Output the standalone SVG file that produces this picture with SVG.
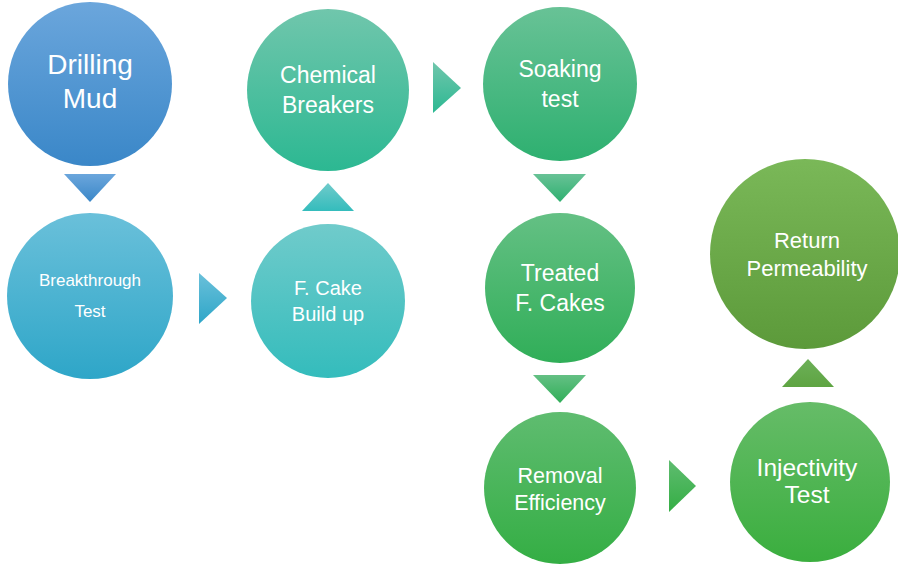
<svg xmlns="http://www.w3.org/2000/svg" width="898" height="567" viewBox="0 0 898 567">
<defs>
<linearGradient id="gBlue" x1="0" y1="0" x2="0" y2="1"><stop offset="0" stop-color="#6ba6dc"/><stop offset="1" stop-color="#3a87c8"/></linearGradient>
<linearGradient id="gCyan" x1="0" y1="0" x2="0" y2="1"><stop offset="0" stop-color="#6ac0da"/><stop offset="1" stop-color="#2ea6c8"/></linearGradient>
<linearGradient id="gTeal" x1="0" y1="0" x2="0" y2="1"><stop offset="0" stop-color="#70cbcb"/><stop offset="1" stop-color="#34bcbc"/></linearGradient>
<linearGradient id="gSea" x1="0" y1="0" x2="0" y2="1"><stop offset="0" stop-color="#70c6ac"/><stop offset="1" stop-color="#2cb892"/></linearGradient>
<linearGradient id="gMint" x1="0" y1="0" x2="0" y2="1"><stop offset="0" stop-color="#68c296"/><stop offset="1" stop-color="#2eb070"/></linearGradient>
<linearGradient id="gGreen1" x1="0" y1="0" x2="0" y2="1"><stop offset="0" stop-color="#64c084"/><stop offset="1" stop-color="#30ae58"/></linearGradient>
<linearGradient id="gGreen2" x1="0" y1="0" x2="0" y2="1"><stop offset="0" stop-color="#5fbc70"/><stop offset="1" stop-color="#34ae44"/></linearGradient>
<linearGradient id="gGreen3" x1="0" y1="0" x2="0" y2="1"><stop offset="0" stop-color="#66bc68"/><stop offset="1" stop-color="#3aae3e"/></linearGradient>
<linearGradient id="gOlive" x1="0" y1="0" x2="0" y2="1"><stop offset="0" stop-color="#7ab858"/><stop offset="1" stop-color="#5c9a3a"/></linearGradient>
<linearGradient id="gOliveT" x1="0" y1="0" x2="0" y2="1"><stop offset="0" stop-color="#6cb058"/><stop offset="1" stop-color="#5ea442"/></linearGradient>
</defs>
<style>
text{font-family:"Liberation Sans",Arial,sans-serif;fill:#ffffff;text-anchor:middle}
</style>
<g id="connectors">
<polygon points="64,174 116,174 90,202" fill="url(#gBlue)"/>
<polygon points="199,273 227,298 199,324" fill="url(#gCyan)"/>
<polygon points="302,211 354,211 328,183" fill="url(#gTeal)"/>
<polygon points="433,62 461,88 433,113" fill="url(#gSea)"/>
<polygon points="533,174 586,174 560,202" fill="url(#gMint)"/>
<polygon points="533,375 586,375 560,403" fill="url(#gGreen1)"/>
<polygon points="669,460 696,486 669,512" fill="url(#gGreen2)"/>
<polygon points="782,387 834,387 808,359" fill="url(#gOliveT)"/>
</g>
<g id="drilling-mud">
<circle cx="90" cy="84" r="82" fill="url(#gBlue)"/>
<text x="90" y="74" font-size="28">Drilling</text>
<text x="90" y="108" font-size="28">Mud</text>
</g>
<g id="breakthrough-test">
<circle cx="90" cy="296" r="83" fill="url(#gCyan)"/>
<text x="90" y="286" font-size="17">Breakthrough</text>
<text x="90" y="317" font-size="17">Test</text>
</g>
<g id="f-cake-build-up">
<circle cx="328" cy="301" r="77" fill="url(#gTeal)"/>
<text x="328" y="295" font-size="20">F. Cake</text>
<text x="328" y="321" font-size="20">Build up</text>
</g>
<g id="chemical-breakers">
<circle cx="328" cy="90" r="81" fill="url(#gSea)"/>
<text x="328" y="83" font-size="23">Chemical</text>
<text x="328" y="113" font-size="23">Breakers</text>
</g>
<g id="soaking-test">
<circle cx="560" cy="84" r="77" fill="url(#gMint)"/>
<text x="560" y="77" font-size="23">Soaking</text>
<text x="560" y="107" font-size="23">test</text>
</g>
<g id="treated-f-cakes">
<circle cx="560" cy="288" r="75" fill="url(#gGreen1)"/>
<text x="560" y="281" font-size="23">Treated</text>
<text x="560" y="311" font-size="23">F. Cakes</text>
</g>
<g id="removal-efficiency">
<circle cx="560" cy="488" r="76" fill="url(#gGreen2)"/>
<text x="560" y="483" font-size="21.5">Removal</text>
<text x="560" y="510" font-size="21.5">Efficiency</text>
</g>
<g id="injectivity-test">
<circle cx="810" cy="482" r="80" fill="url(#gGreen3)"/>
<text x="807" y="476" font-size="24.5">Injectivity</text>
<text x="807" y="503" font-size="24.5">Test</text>
</g>
<g id="return-permeability">
<circle cx="805" cy="254" r="95" fill="url(#gOlive)"/>
<text x="807" y="248" font-size="22" fill="#f4f8ee">Return</text>
<text x="807" y="276" font-size="22" fill="#f4f8ee">Permeability</text>
</g>
</svg>
